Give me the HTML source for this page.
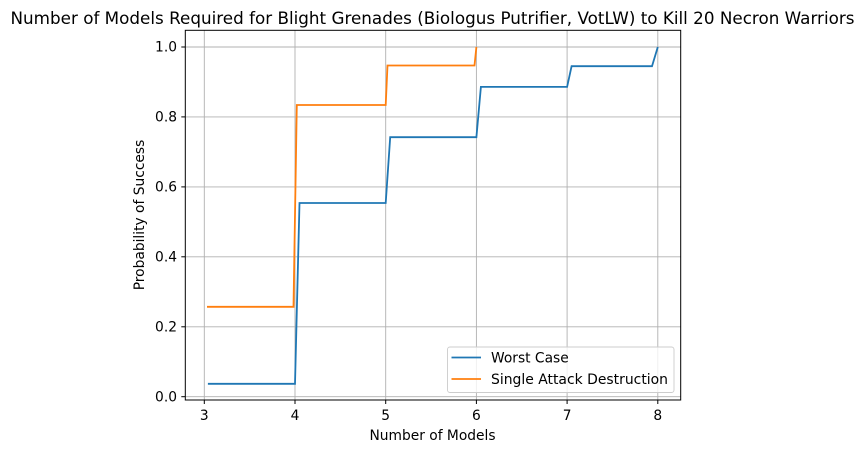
<!DOCTYPE html>
<html><head><style>body{margin:0;background:#fff}svg{display:block}text{font-family:"DejaVu Sans","Liberation Sans",sans-serif;fill:#000}</style></head><body>
<svg width="865" height="453" viewBox="0 0 865 453" xmlns="http://www.w3.org/2000/svg">
<rect width="865" height="453" fill="#fff"/>
<text x="432.5" y="24" font-size="16.5" text-anchor="middle" textLength="844" lengthAdjust="spacingAndGlyphs">Number of Models Required for Blight Grenades (Biologus Putrifier, VotLW) to Kill 20 Necron Warriors</text>
<g stroke="#b0b0b0" stroke-width="0.9">
<line x1="204.3" y1="30.3" x2="204.3" y2="400"/><line x1="295" y1="30.3" x2="295" y2="400"/><line x1="385.7" y1="30.3" x2="385.7" y2="400"/><line x1="476.4" y1="30.3" x2="476.4" y2="400"/><line x1="567.1" y1="30.3" x2="567.1" y2="400"/><line x1="657.8" y1="30.3" x2="657.8" y2="400"/>
<line x1="185.3" y1="396.7" x2="680.7" y2="396.7"/><line x1="185.3" y1="326.8" x2="680.7" y2="326.8"/><line x1="185.3" y1="256.8" x2="680.7" y2="256.8"/><line x1="185.3" y1="186.9" x2="680.7" y2="186.9"/><line x1="185.3" y1="116.9" x2="680.7" y2="116.9"/><line x1="185.3" y1="47" x2="680.7" y2="47"/>
</g>
<polyline fill="none" stroke="#1f77b4" stroke-width="1.8" points="207.9,383.8 295,383.8 299.5,203 385.7,203 390.2,137.2 476.4,137.2 480.9,86.9 567.1,86.9 571.6,66.2 652,66.2 657.8,47"/>
<polyline fill="none" stroke="#ff7f0e" stroke-width="1.8" points="207,306.8 293.5,306.8 296.8,105 385.7,105 387.5,65.5 474.5,65.5 476.4,47"/>
<rect x="185.3" y="30.3" width="495.4" height="369.7" fill="none" stroke="#000" stroke-width="1"/>
<g stroke="#000" stroke-width="1">
<line x1="204.3" y1="400" x2="204.3" y2="404"/><line x1="295" y1="400" x2="295" y2="404"/><line x1="385.7" y1="400" x2="385.7" y2="404"/><line x1="476.4" y1="400" x2="476.4" y2="404"/><line x1="567.1" y1="400" x2="567.1" y2="404"/><line x1="657.8" y1="400" x2="657.8" y2="404"/>
<line x1="181.3" y1="396.7" x2="185.3" y2="396.7"/><line x1="181.3" y1="326.8" x2="185.3" y2="326.8"/><line x1="181.3" y1="256.8" x2="185.3" y2="256.8"/><line x1="181.3" y1="186.9" x2="185.3" y2="186.9"/><line x1="181.3" y1="116.9" x2="185.3" y2="116.9"/><line x1="181.3" y1="47" x2="185.3" y2="47"/>
</g>
<g font-size="13.8" text-anchor="middle">
<text x="204.3" y="420">3</text><text x="295" y="420">4</text><text x="385.7" y="420">5</text><text x="476.4" y="420">6</text><text x="567.1" y="420">7</text><text x="657.8" y="420">8</text>
</g>
<g font-size="13.8" text-anchor="end">
<text x="177" y="401.5">0.0</text><text x="177" y="331.5">0.2</text><text x="177" y="261.5">0.4</text><text x="177" y="191.5">0.6</text><text x="177" y="121.5">0.8</text><text x="177" y="51.5">1.0</text>
</g>
<text x="432.5" y="440" font-size="13.8" text-anchor="middle">Number of Models</text>
<text transform="translate(144,215) rotate(-90)" font-size="13.8" text-anchor="middle">Probability of Success</text>
<rect x="447.5" y="347" width="226.5" height="45.5" rx="2.5" fill="#fff" fill-opacity="0.8" stroke="#ccc" stroke-width="0.9"/>
<line x1="451.5" y1="357.5" x2="481" y2="357.5" stroke="#1f77b4" stroke-width="1.8"/>
<line x1="451.5" y1="379" x2="481" y2="379" stroke="#ff7f0e" stroke-width="1.8"/>
<text x="491" y="362.5" font-size="13.8">Worst Case</text>
<text x="491" y="384" font-size="13.8" textLength="177" lengthAdjust="spacingAndGlyphs">Single Attack Destruction</text>
</svg>
</body></html>
